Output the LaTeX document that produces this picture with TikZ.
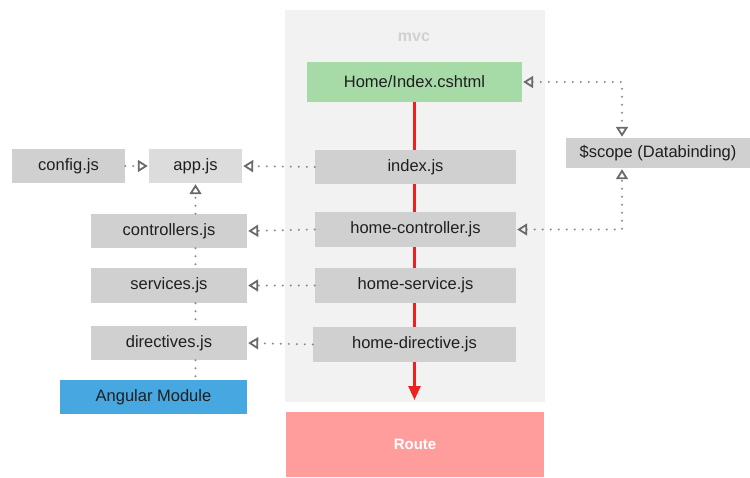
\documentclass[tikz,border=0pt]{standalone}
\usepackage{fontspec}
\setmainfont{Liberation Sans}
\usetikzlibrary{arrows.meta,calc,backgrounds}

\definecolor{boxgray}{HTML}{D0D0D0}
\definecolor{appgray}{HTML}{DCDCDC}
\definecolor{mvcbg}{HTML}{F2F2F2}
\definecolor{viewgreen}{HTML}{A6DBA8}
\definecolor{ngblue}{HTML}{47A7E0}
\definecolor{routered}{HTML}{FF9C9C}
\definecolor{linkgray}{HTML}{8A8A8A}
\definecolor{tipgray}{HTML}{6A6A6A}
\definecolor{flowred}{HTML}{EE2020}

\tikzset{
  box/.style={rectangle, inner sep=0pt, fill=boxgray, text=black!88,
    font=\fontsize{16.5}{19}\selectfont},
  link/.style={draw=linkgray, line width=2.2pt, line cap=round,
    dash pattern=on 0pt off 8pt},
  tiptri/.tip={Triangle[open, length=10pt, width=12pt, line width=1.8pt, color=tipgray]},
  opentip/.style={-tiptri},
  bothtips/.style={tiptri-tiptri},
  flow/.style={draw=flowred, line width=2.6pt,
    -{Triangle[length=14pt, width=12pt, color=flowred]}},
}

\begin{document}
\begin{tikzpicture}[x=1pt, y=-1pt]
\useasboundingbox (0,0) rectangle (750,477);

% mvc container
\fill[mvcbg] (285,10) rectangle (545,402);
\node[text=black!18, font=\fontsize{16}{19}\selectfont\bfseries] (mvclabel) at (414,37) {mvc};

% view and routing
\node[box, fill=viewgreen, minimum width=215pt, minimum height=40pt] (home) at (414.5,82) {Home/Index.cshtml};
\node[box, fill=routered, text=white, minimum width=258pt, minimum height=65pt,
  font=\fontsize{15}{18}\selectfont\bfseries] (route) at (415,444.5) {Route};
\coordinate (flowend) at (414.5,400);

% red flow line runs behind the mvc boxes
\draw[flow] (home.south) -- (flowend);

% mvc files
\node[box, minimum width=201pt, minimum height=34pt] (index) at (415.5,167) {index.js};
\node[box, minimum width=201pt, minimum height=35pt] (hctrl) at (415.5,229.5) {home-controller.js};
\node[box, minimum width=201pt, minimum height=35pt] (hserv) at (415.5,285.5) {home-service.js};
\node[box, minimum width=203pt, minimum height=35pt] (hdir) at (414.5,344.5) {home-directive.js};

% angular module files
\node[box, minimum width=113pt, minimum height=34pt] (config) at (68.5,166) {config.js};
\node[box, fill=appgray, minimum width=93pt, minimum height=34pt] (app) at (195.5,166) {app.js};
\node[box, minimum width=156pt, minimum height=34pt] (ctrls) at (169,231) {controllers.js};
\node[box, minimum width=156pt, minimum height=35pt] (servs) at (169,285.5) {services.js};
\node[box, minimum width=156pt, minimum height=34pt] (dirs) at (169,343) {directives.js};
\node[box, fill=ngblue, minimum width=187pt, minimum height=34pt] (ng) at (153.5,397) {Angular Module};

% data binding
\node[box, minimum width=184pt, minimum height=30pt] (scope) at (658,153) {\$scope (Databinding)};

% dependency links
\draw[link, opentip, shorten >=1pt] (config.east) -- (app.west);
\draw[link, opentip, shorten >=1pt] (index.west) -- (app.east);
\draw[link, opentip, shorten >=1pt] (hctrl.west) -- (ctrls.east);
\draw[link, opentip, shorten >=1pt] (hserv.west) -- (servs.east);
\draw[link, opentip, shorten >=1pt] (hdir.west) -- (dirs.east);

% vertical chain of module files
\draw[link, opentip, shorten >=1pt] (ctrls.north -| app.south) -- (app.south);
\draw[link] (ctrls.south -| app.south) -- (servs.north -| app.south);
\draw[link] (servs.south -| app.south) -- (dirs.north -| app.south);
\draw[link] (dirs.south -| app.south) -- (ng.north -| app.south);

% scope bindings
\coordinate (bindx) at (622,0);
\draw[link, bothtips, shorten >=1pt, shorten <=1pt] (home.east) -| (bindx |- scope.north);
\draw[link, bothtips, shorten >=1pt, shorten <=1pt] (hctrl.east) -| (bindx |- scope.south);
\end{tikzpicture}
\end{document}
